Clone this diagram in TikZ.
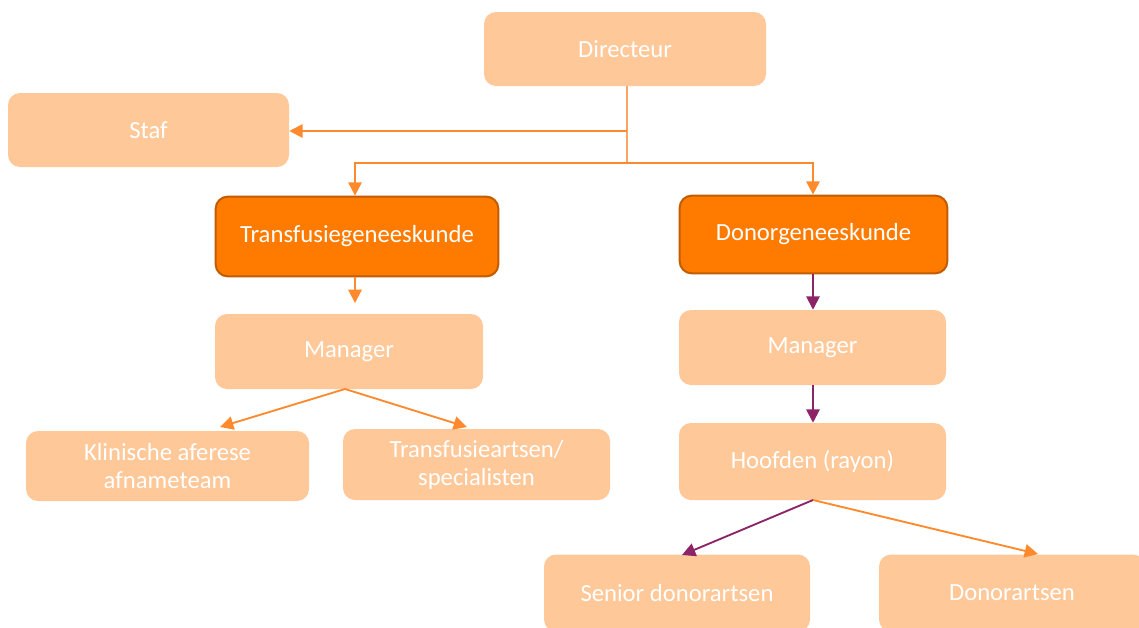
\documentclass[tikz,border=0pt]{standalone}
\usepackage{fontspec}
\setmainfont{Carlito}
\usetikzlibrary{arrows.meta}
\definecolor{lightbox}{HTML}{FFC899}
\definecolor{darkbox}{HTML}{FF7B00}
\definecolor{darkedge}{HTML}{C25C00}
\definecolor{arrorange}{HTML}{FF8A2E}
\definecolor{linorange}{HTML}{FFA564}
\definecolor{arrpurple}{HTML}{8E2468}
\tikzset{
  lbox/.style={fill=lightbox, draw=none, rounded corners=9pt, text=white,
    font=\fontsize{18.5pt}{21pt}\selectfont, align=center, inner sep=0pt},
  dbox/.style={fill=darkbox, draw=darkedge, line width=1.5pt, rounded corners=9pt, text=white,
    font=\fontsize{18.5pt}{21pt}\selectfont, align=center, inner sep=0pt},
  oarr/.style={draw=arrorange, line width=1.4pt, -{Triangle[length=10pt,width=10pt]}},
  parr/.style={draw=arrpurple, line width=1.4pt, -{Triangle[length=10pt,width=10pt]}},
  oline/.style={draw=linorange, line width=1.4pt},
}
\begin{document}
\begin{tikzpicture}[x=0.75pt,y=-0.75pt]
\useasboundingbox (0,0) rectangle (1139,628);
\node[lbox, minimum width=211.5pt, minimum height=55.5pt] (dir) at (625,49) {Directeur};
\node[lbox, minimum width=210.75pt, minimum height=55.5pt] (staf) at (148.5,130) {Staf};
\node[dbox, minimum width=212pt, minimum height=59.75pt] (trans) at (357,236.5) {Transfusiegeneeskunde};
\node[dbox, minimum width=200.75pt, minimum height=58.25pt] (donor) at (813.5,234.5) {Donorgeneeskunde};
\node[lbox, minimum width=201pt, minimum height=56.25pt] (manl) at (349,351.5) {Manager};
\node[lbox, minimum width=200.25pt, minimum height=56.25pt] (manr) at (812.5,347.5) {Manager};
\node[lbox, minimum width=212.25pt, minimum height=52.5pt] (klin) at (167.5,466) {Klinische aferese\\afnameteam};
\node[lbox, minimum width=200.25pt, minimum height=53.25pt] (tra) at (476.5,464.5) {Transfusieartsen/\\specialisten};
\node[lbox, minimum width=200.25pt, minimum height=57.75pt] (hoof) at (812.5,461.5) {Hoofden (rayon)};
\node[lbox, minimum width=199.5pt, minimum height=57.75pt] (sen) at (677,593) {Senior donorartsen};
\node[lbox, minimum width=199.5pt, minimum height=57.75pt] (don) at (1012,593) {Donorartsen};

\coordinate (j1) at (627,131);
\coordinate (j2) at (627,163);
\coordinate (t1) at (355,163);
\coordinate (t2) at (813,163);
\draw[oline] (dir.south -| j1) -- (j2);
\draw[oline, -{Triangle[length=10pt,width=10pt]}, draw=arrorange] (j1) -- (staf.east |- j1);
\draw[oarr] (j2) -- (t1) -- (t1 |- trans.north);
\draw[oarr] (j2) -- (t2) -- (t2 |- donor.north);
\draw[oarr, shorten >=8pt] (trans.south -| t1) -- (t1 |- manl.north);
\draw[parr] (donor.south -| t2) -- (t2 |- manr.north);
\draw[parr] (manr.south -| t2) -- (t2 |- hoof.north);
\coordinate (ml) at (345,389);
\coordinate (kl) at (220,427);
\coordinate (tr) at (467,427);
\draw[oarr] (ml) -- (kl);
\draw[oarr] (ml) -- (tr);
\coordinate (hb) at (813,500);
\coordinate (sn) at (682,555);
\coordinate (dn) at (1038,554);
\draw[parr] (hb) -- (sn);
\draw[oarr] (hb) -- (dn);
\end{tikzpicture}
\end{document}
